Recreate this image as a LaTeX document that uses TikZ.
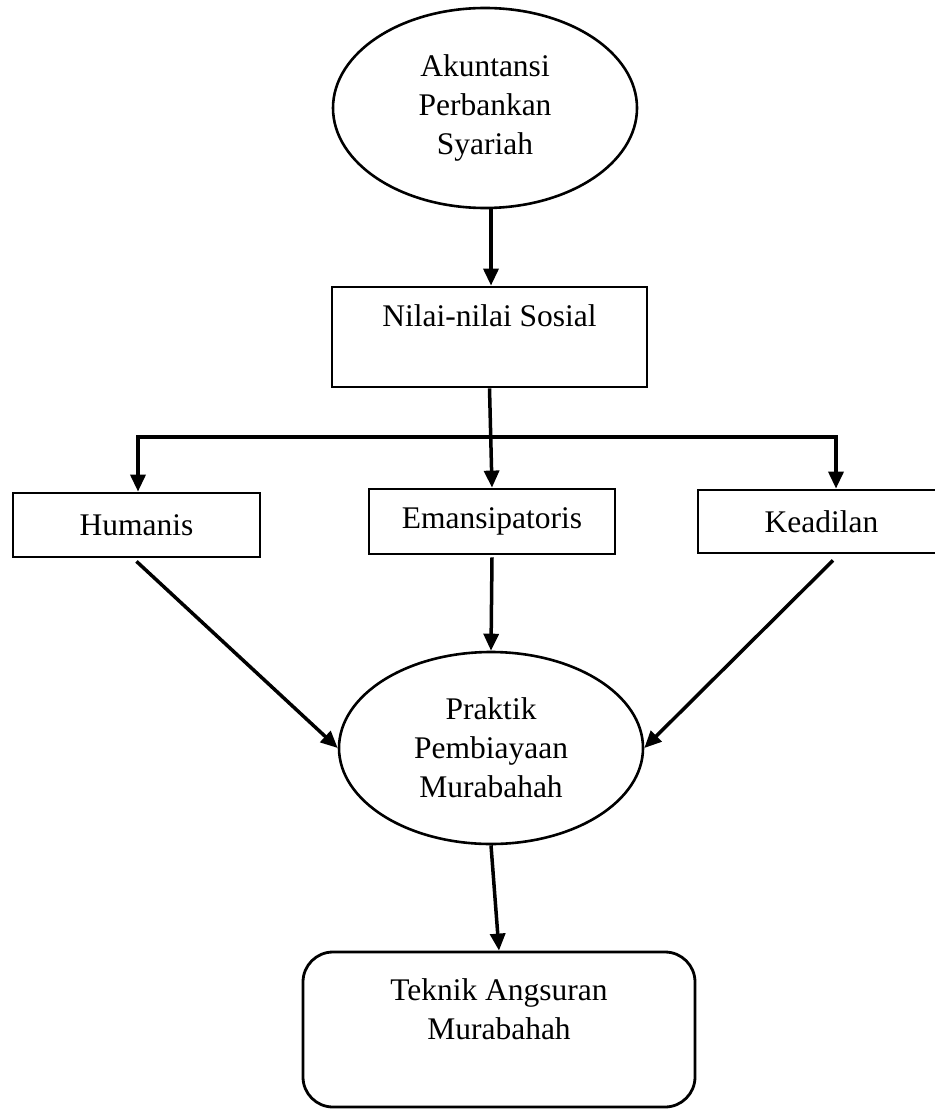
\documentclass[tikz,border=0pt]{standalone}
\usepackage{fontspec}
\setmainfont{Liberation Serif}
\usetikzlibrary{shapes.geometric,arrows.meta,calc}
\begin{document}
\begin{tikzpicture}[x=1pt,y=-1pt,
  txt/.style={font=\fontsize{31.5}{39}\selectfont, align=center, inner sep=0pt},
  box/.style={draw, line width=2.8pt, rectangle, inner sep=0pt, txt},
  oval/.style={draw, line width=2.6pt, ellipse, inner sep=0pt, txt},
  arr/.style={line width=3.5pt, -{Triangle[length=17pt,width=15pt]}}]
\useasboundingbox (0,0) rectangle (934,1110);
% shapes
\node[oval, minimum width=304pt, minimum height=200pt] (akun) at (485,108) {Akuntansi\\Perbankan\\Syariah};
\node[box, minimum width=315pt, minimum height=100pt] (nilai) at (489.5,337) {};
\node[txt] (nilaitxt) at (489.5,316) {Nilai-nilai Sosial};
\node[box, minimum width=247pt, minimum height=64pt] (hum) at (136.5,525) {Humanis};
\node[box, minimum width=246pt, minimum height=65pt] (ema) at (492,521.5) {Emansipatoris};
\node[box, minimum width=247pt, minimum height=63pt] (kea) at (821.5,521.5) {Keadilan};
\node[oval, minimum width=304pt, minimum height=192pt] (prak) at (491,748) {Praktik\\Pembiayaan\\Murabahah};
\node[box, rounded corners=30pt, minimum width=392pt, minimum height=155pt] (tek) at (499,1029.5) {};
\node[txt] (tektxt) at (499,1009) {Teknik Angsuran\\Murabahah};
% connectors
\draw[arr] ([xshift=6pt]akun.south) -- ([xshift=6pt]akun.south |- nilai.north);
\draw[arr] (nilai.south) -- (ema.north);
\coordinate (bl) at (138,437);
\coordinate (br) at (836,437);
\draw[arr] (br) -- (bl) -- (bl |- hum.north);
\draw[arr] ($(br)+(0,-1.75)$) -- (br |- kea.north);
\draw[arr] ([yshift=-3pt]hum.south) -- (prak.west);
\draw[arr] ([xshift=11.5pt,yshift=-6pt]kea.south) -- (prak.east);
\draw[arr] ([yshift=-2pt]ema.south) -- (prak.north);
\draw[arr] (prak.south) -- (tek.north);
\end{tikzpicture}
\end{document}
